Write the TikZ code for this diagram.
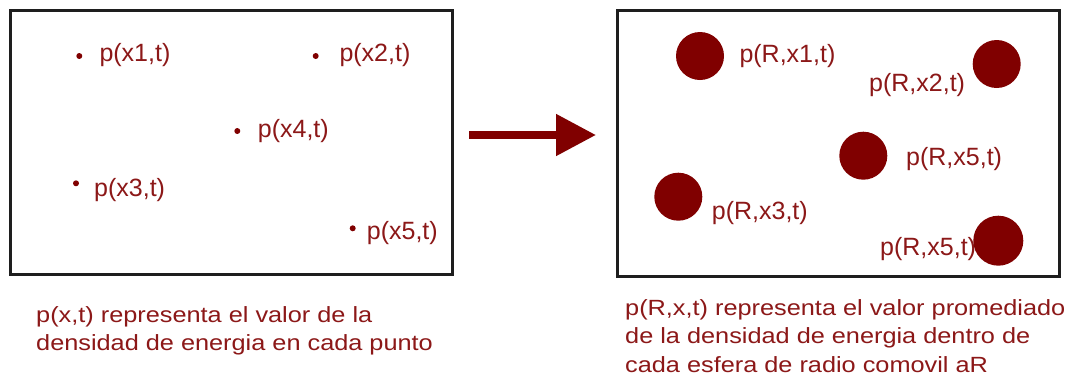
\documentclass[tikz,border=0pt]{standalone}
\usepackage{fontspec}
\setmainfont{Liberation Sans}
\newfontfamily\notefont[FakeStretch=1.15]{Liberation Sans}
\usetikzlibrary{arrows.meta}
\definecolor{deepred}{RGB}{128,0,0}
\definecolor{labelred}{RGB}{140,24,24}
\definecolor{frame}{RGB}{30,30,30}
\tikzset{
  panel/.style={draw=frame, line width=3pt, minimum width=441.5pt, inner sep=0pt},
  point/.style={circle, fill=deepred, inner sep=0pt, minimum size=6pt},
  sphere/.style={circle, fill=deepred, inner sep=0pt, minimum size=48pt},
  tag/.style={anchor=west, inner sep=0pt, text=labelred, font=\fontsize{25}{29}\selectfont},
  note/.style={anchor=base west, inner sep=0pt, text=labelred, font=\notefont\fontsize{22}{28}\selectfont},
  bigarrow/.style={draw=deepred, line width=8pt, -{Triangle[length=40pt, width=40pt]}}
}
\begin{document}
\begin{tikzpicture}[x=1pt, y=-1pt]
\useasboundingbox (0,0) rectangle (1082,381);
\fill[white] (0,0) rectangle (1082,381);

% frames
\node[panel, minimum height=264pt] (leftbox) at (231.25,142) {};
\node[panel, minimum height=265.5pt] (rightbox) at (838.25,143.25) {};

% point values
\node[point] (d1) at (79.3,56) {};
\node[point] (d2) at (315.7,56) {};
\node[point] (d4) at (237.3,131) {};
\node[point] (d3) at (76,183.3) {};
\node[point] (d5) at (352.7,228.3) {};
\node[tag] (l1) at (99.3,55) {p(x1,t)};
\node[tag] (l2) at (339.3,55) {p(x2,t)};
\node[tag] (l4) at (257.7,131) {p(x4,t)};
\node[tag] (l3) at (94,190) {p(x3,t)};
\node[tag] (l5) at (366.7,233) {p(x5,t)};

% averaged spheres
\node[sphere] (s1) at (700,56) {};
\node[sphere] (s2) at (996.7,64) {};
\node[sphere] (s4) at (863.3,155.7) {};
\node[sphere] (s3) at (678.3,196.7) {};
\node[tag] (r1) at (739.3,56) {p(R,x1,t)};
\node[tag] (r2) at (869,85) {p(R,x2,t)};
\node[tag] (r4) at (906,159) {p(R,x5,t)};
\node[tag] (r3) at (711.7,213) {p(R,x3,t)};
\node[tag] (r5) at (880,249) {p(R,x5,t)};
% the last sphere sits over the end of its label
\node[sphere, minimum size=50pt] (s5) at (998.3,240.7) {};

% transition arrow
\coordinate (arrowtail) at (469,135);
\coordinate (arrowtip) at (596,135);
\draw[bigarrow] (arrowtail) -- (arrowtip);

% captions
\node[note] (c1) at (36,322) {p(x,t) representa el valor de la};
\node[note] (c2) at (36,350) {densidad de energia en cada punto};
\node[note] (c3) at (625,315) {p(R,x,t) representa el valor promediado};
\node[note] (c4) at (625,343.5) {de la densidad de energia dentro de};
\node[note] (c5) at (625,372) {cada esfera de radio comovil aR};
\end{tikzpicture}
\end{document}
